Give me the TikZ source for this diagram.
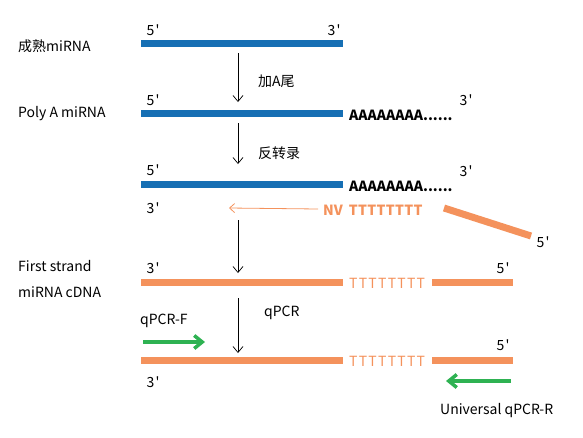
\documentclass[tikz,border=0pt]{standalone}
\usepackage{xcolor}
\usepackage{fontspec}
\setmainfont{Noto Sans CJK SC}
\usetikzlibrary{arrows.meta}

\definecolor{rnablue}{RGB}{22,111,180}
\definecolor{dnaorange}{RGB}{244,146,92}
\definecolor{primergreen}{RGB}{46,178,82}

\newcommand{\prm}[1]{#1\kern1.2pt\textquotesingle}
\newcommand{\tees}{{\addfontfeature{LetterSpace=9}TTTTTTTT}}
\newcommand{\boldtees}{{\addfontfeature{LetterSpace=2}TTTTTTTT}}

\tikzset{
	lbl/.style={inner sep=0pt, font=\fontsize{14}{16}\selectfont},
	rnabar/.style={line width=7pt, rnablue},
	dnabar/.style={line width=7pt, dnaorange},
	stagearrow/.style={-{Straight Barb[length=6pt,width=10pt]}, line width=0.7pt},
	primer/.style={-{Straight Barb[length=8pt,width=13pt,line width=3.5pt]}, line width=4pt, primergreen},
	polya/.style={lbl, font=\fontsize{14}{16}\selectfont\bfseries},
	tail/.style={lbl, dnaorange},
}

\begin{document}
\begin{tikzpicture}[x=1pt,y=-1pt]
	\useasboundingbox (0,0) rectangle (583,437);

	% left labels
	\node[lbl, anchor=west] (mature) at (18,46) {成熟miRNA};
	\node[lbl, anchor=west] (polyrna) at (18,114) {Poly A miRNA};
	\node[lbl, anchor=west] (first) at (18,266) {First strand};
	\node[lbl, anchor=west] (cdna) at (18,292) {miRNA cDNA};

	% mature miRNA
	\draw[rnabar] (141,43) -- (343,43);
	\node[lbl] (m5) at (153,30) {\prm{5}};
	\node[lbl] (m3) at (334,30) {\prm{3}};

	% poly A tail
	\draw[rnabar] (141,113) -- (343,113);
	\node[lbl] (p5) at (153,100) {\prm{5}};
	\node[polya, anchor=west] (pa) at (349,115) {AAAAAAAA......};
	\node[lbl] (p3) at (466,100) {\prm{3}};

	% reverse transcription
	\draw[rnabar] (141,184) -- (343,184);
	\node[lbl] (r5) at (153,170) {\prm{5}};
	\node[polya, anchor=west] (ra) at (349,186) {AAAAAAAA......};
	\node[lbl] (r3) at (466,171) {\prm{3}};
	\node[lbl] (rt3) at (153,208) {\prm{3}};
	\node[polya, dnaorange, anchor=west] (nv) at (323,210) {NV\hspace{6pt}\boldtees};
	\coordinate (rtend) at (229,208);
	\draw[dnaorange, line width=0.8pt, -{Straight Barb[length=5pt,width=9pt]}] (nv.west) ++(-5,-1) -- (rtend);
	\draw[line width=7pt, dnaorange] (444,208) -- (531,236);
	\node[lbl] (rt5) at (543,242) {\prm{5}};

	% first strand cDNA
	\draw[dnabar] (141,282) -- (343,282);
	\node[tail, anchor=west] (t1) at (349,283) {\tees};
	\draw[dnabar] (432,282) -- (513,282);
	\node[lbl] (f3) at (153,268) {\prm{3}};
	\node[lbl] (f5) at (503,268) {\prm{5}};

	% qPCR
	\draw[dnabar] (141,360) -- (343,360);
	\node[tail, anchor=west] (t2) at (349,361) {\tees};
	\draw[dnabar] (432,360) -- (513,360);
	\node[lbl] (q5) at (503,345) {\prm{5}};
	\node[lbl] (q3) at (153,382) {\prm{3}};
	\node[lbl, anchor=west] (fwd) at (140,321) {qPCR-F};
	\node[lbl, anchor=west] (rev) at (440,411) {Universal qPCR-R};
	\coordinate (fa) at (143,342);
	\coordinate (fb) at (205,342);
	\coordinate (ra1) at (511,381);
	\coordinate (ra2) at (446,381);
	\draw[primer] (fa) -- (fb);
	\draw[primer] (ra1) -- (ra2);

	% stage arrows
	\coordinate (a1) at (238,53);  \coordinate (b1) at (238,102);
	\coordinate (a2) at (238,123); \coordinate (b2) at (238,164);
	\coordinate (a3) at (238,220); \coordinate (b3) at (238,273);
	\coordinate (a4) at (238,298); \coordinate (b4) at (238,353);
	\draw[stagearrow] (a1) -- (b1);
	\draw[stagearrow] (a2) -- (b2);
	\draw[stagearrow] (a3) -- (b3);
	\draw[stagearrow] (a4) -- (b4);
	\node[lbl, anchor=west] (tailing) at (258,81) {加A尾};
	\node[lbl, anchor=west] (rtlbl) at (258,153) {反转录};
	\node[lbl, anchor=west] (qpcr) at (264,313) {qPCR};
\end{tikzpicture}
\end{document}
